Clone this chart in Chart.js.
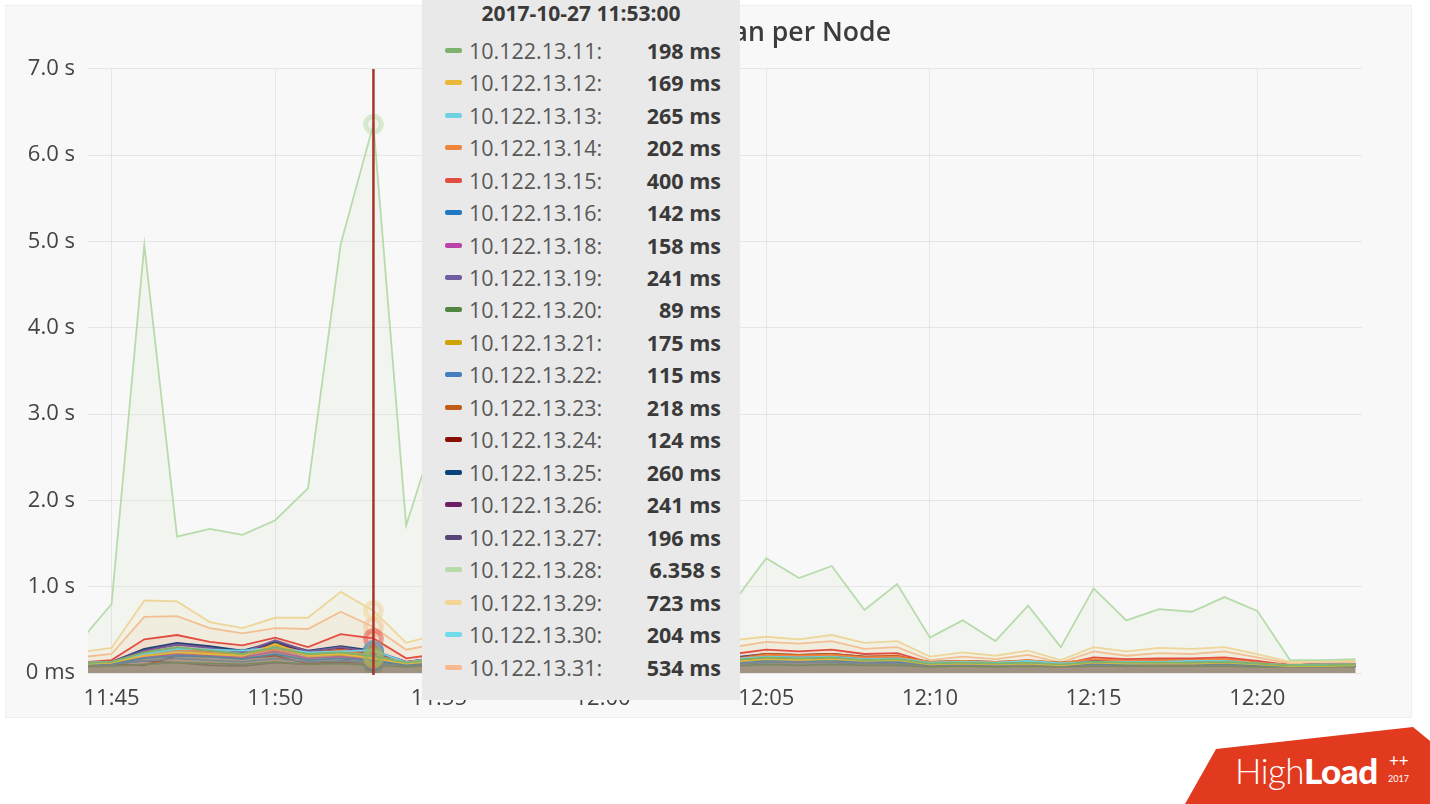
<!DOCTYPE html>
<html>
<head>
<meta charset="utf-8">
<title>Latency per Node</title>
<script src="https://cdn.jsdelivr.net/npm/chart.js@4.4.0/dist/chart.umd.min.js"></script>
<style>
  html, body { margin: 0; padding: 0; background: #fff; width: 1430px; height: 804px; overflow: hidden; }
  #panel { position: absolute; left: 5px; top: 5px; width: 1405px; height: 711px; background: #f8f8f8; border: 1px solid #efefef; }
  #chartBox { position: absolute; left: 5px; top: 5px; width: 1407px; height: 713px; }
  #tip { position: absolute; left: 422px; top: -8px; width: 318px; height: 708px; background: #e9e9e9;
         font-family: 'Open Sans', sans-serif; box-sizing: border-box; padding: 8px 19px 0 23px; }
  #tip .tt-title { font-weight: 700; font-size: 21px; line-height: 26px; color: #3a3a3a; text-align: center; margin-left: -4px; }
  #tip .row { display: flex; align-items: center; height: 32.47px; }
  #tip .rows { margin-top: 8px; }
  #tip .sw { width: 17px; height: 5px; border-radius: 2px; margin-right: 7px; flex: none; }
  #tip .lbl { font-size: 21.5px; color: #585858; flex: 1; }
  #tip .val { font-size: 21.5px; font-weight: 700; color: #3a3a3a; }
  #logoShape { position: absolute; left: 1180px; top: 720px; width: 250px; height: 84px; background: #e13a1e;
               clip-path: polygon(5px 84px, 36px 29px, 233px 7px, 250px 21px, 250px 84px); }
  #logoText { position: absolute; left: 1235px; top: 748px; color: #fff; font-family: Lato, sans-serif; font-size: 35px; line-height: 44px; letter-spacing: -0.5px; }
  #logoText .thin { font-weight: 300; }
  #logoText .bold { font-weight: 900; }
  #logoPlus { position: absolute; left: 1389px; top: 752px; color: #fff; font-family: Lato, sans-serif; font-size: 17px; font-weight: 400; line-height: 17px; }
  #logoYear { position: absolute; left: 1388px; top: 774px; color: #fff; font-family: Lato, sans-serif; font-size: 9px; line-height: 10px; }
</style>
</head>
<body>
<div id="panel"></div>
<div id="chartBox"><canvas id="latencyChart"></canvas></div>
<div id="tip"></div>
<div id="logoShape"></div>
<div id="logoText"><span class="thin">High</span><span class="bold">Load</span></div>
<div id="logoPlus">++</div>
<div id="logoYear">2017</div>
<script>
// ---- data ----
const day = '2017-10-27';
const times = ['11:44','11:45','11:46','11:47','11:48','11:49','11:50','11:51','11:52','11:53',
               '11:54','11:55','11:56','11:57','11:58','11:59','12:00','12:01','12:02','12:03',
               '12:04','12:05','12:06','12:07','12:08','12:09','12:10','12:11','12:12','12:13',
               '12:14','12:15','12:16','12:17','12:18','12:19','12:20','12:21','12:22','12:23'];
const hoverTime = '11:53';
const xTicks = ['11:45','11:50','11:55','12:00','12:05','12:10','12:15','12:20'];
const yTickLabels = ['0 ms','1.0 s','2.0 s','3.0 s','4.0 s','5.0 s','6.0 s','7.0 s'];

const nodes = ['10.122.13.11','10.122.13.12','10.122.13.13','10.122.13.14','10.122.13.15',
               '10.122.13.16','10.122.13.18','10.122.13.19','10.122.13.20','10.122.13.21',
               '10.122.13.22','10.122.13.23','10.122.13.24','10.122.13.25','10.122.13.26',
               '10.122.13.27','10.122.13.28','10.122.13.29','10.122.13.30','10.122.13.31'];

// seconds, one value per minute
const node11 = [0.11,0.13,0.24,0.30,0.26,0.22,0.30,0.22,0.24,0.198, 0.12,0.16,0.18,0.17,0.16,0.15,0.17,0.16,0.15,0.16, 0.15,0.18,0.17,0.18,0.15,0.16,0.11,0.12,0.11,0.12, 0.10,0.13,0.12,0.12,0.12,0.13,0.11,0.09,0.09,0.10];
const node12 = [0.10,0.12,0.20,0.24,0.22,0.20,0.33,0.20,0.22,0.169, 0.11,0.14,0.15,0.15,0.14,0.13,0.15,0.14,0.13,0.14, 0.13,0.16,0.15,0.16,0.14,0.15,0.10,0.11,0.10,0.11, 0.09,0.12,0.11,0.11,0.11,0.12,0.10,0.08,0.08,0.09];
const node13 = [0.12,0.13,0.22,0.28,0.27,0.26,0.30,0.24,0.25,0.265, 0.12,0.18,0.19,0.18,0.17,0.17,0.18,0.17,0.16,0.17, 0.16,0.19,0.18,0.19,0.16,0.17,0.12,0.13,0.12,0.14, 0.11,0.13,0.13,0.13,0.14,0.14,0.11,0.09,0.10,0.10];
const node14 = [0.11,0.12,0.23,0.27,0.24,0.21,0.27,0.21,0.26,0.202, 0.13,0.17,0.18,0.18,0.16,0.15,0.17,0.16,0.15,0.16, 0.16,0.21,0.20,0.21,0.18,0.19,0.13,0.14,0.13,0.15, 0.12,0.16,0.14,0.15,0.15,0.16,0.12,0.09,0.10,0.10];
const node15 = [0.12,0.15,0.39,0.44,0.36,0.32,0.41,0.30,0.45,0.400, 0.17,0.22,0.24,0.23,0.22,0.21,0.23,0.22,0.21,0.22, 0.22,0.27,0.25,0.27,0.22,0.23,0.12,0.14,0.12,0.15, 0.10,0.18,0.16,0.17,0.17,0.18,0.14,0.09,0.10,0.10];
const node16 = [0.10,0.11,0.17,0.20,0.19,0.16,0.22,0.15,0.17,0.142, 0.10,0.12,0.13,0.13,0.12,0.12,0.13,0.12,0.12,0.12, 0.12,0.14,0.14,0.14,0.13,0.13,0.10,0.10,0.10,0.11, 0.09,0.11,0.10,0.11,0.11,0.11,0.09,0.08,0.08,0.08];
const node18 = [0.10,0.11,0.18,0.22,0.20,0.18,0.25,0.17,0.19,0.158, 0.10,0.13,0.14,0.13,0.13,0.12,0.13,0.13,0.12,0.13, 0.12,0.15,0.14,0.15,0.13,0.13,0.10,0.11,0.10,0.11, 0.09,0.11,0.11,0.11,0.11,0.12,0.10,0.08,0.08,0.09];
const node19 = [0.12,0.13,0.26,0.33,0.29,0.24,0.38,0.25,0.30,0.241, 0.13,0.18,0.19,0.19,0.18,0.17,0.19,0.18,0.17,0.18, 0.17,0.20,0.19,0.20,0.18,0.18,0.12,0.13,0.12,0.13, 0.11,0.14,0.13,0.14,0.14,0.14,0.12,0.09,0.10,0.10];
const node20 = [0.07,0.08,0.10,0.12,0.11,0.10,0.13,0.10,0.11,0.089, 0.07,0.09,0.09,0.09,0.09,0.08,0.09,0.09,0.08,0.09, 0.08,0.10,0.09,0.10,0.09,0.09,0.07,0.08,0.07,0.08, 0.07,0.08,0.08,0.08,0.08,0.08,0.07,0.07,0.07,0.07];
const node21 = [0.10,0.12,0.19,0.23,0.21,0.19,0.34,0.20,0.21,0.175, 0.11,0.14,0.15,0.14,0.14,0.13,0.14,0.14,0.13,0.14, 0.13,0.16,0.15,0.16,0.14,0.14,0.10,0.11,0.10,0.12, 0.09,0.12,0.11,0.12,0.12,0.12,0.10,0.08,0.09,0.09];
const node22 = [0.09,0.10,0.14,0.17,0.15,0.13,0.17,0.13,0.14,0.115, 0.09,0.11,0.11,0.11,0.11,0.10,0.11,0.11,0.10,0.11, 0.10,0.12,0.12,0.12,0.11,0.11,0.09,0.09,0.09,0.10, 0.08,0.10,0.09,0.10,0.10,0.10,0.09,0.08,0.08,0.08];
const node23 = [0.11,0.13,0.24,0.29,0.25,0.22,0.31,0.23,0.27,0.218, 0.12,0.17,0.18,0.18,0.17,0.16,0.17,0.17,0.16,0.17, 0.17,0.22,0.21,0.22,0.19,0.20,0.12,0.13,0.12,0.14, 0.11,0.15,0.14,0.15,0.15,0.16,0.12,0.09,0.10,0.10];
const node24 = [0.09,0.10,0.09,0.20,0.19,0.17,0.20,0.11,0.12,0.124, 0.09,0.11,0.11,0.11,0.11,0.10,0.11,0.11,0.10,0.11, 0.10,0.19,0.18,0.19,0.16,0.17,0.11,0.12,0.11,0.12, 0.10,0.13,0.12,0.13,0.13,0.13,0.10,0.08,0.08,0.09];
const node25 = [0.12,0.13,0.28,0.35,0.31,0.26,0.36,0.26,0.31,0.260, 0.13,0.18,0.20,0.19,0.18,0.18,0.19,0.18,0.17,0.18, 0.18,0.22,0.21,0.22,0.19,0.19,0.13,0.14,0.13,0.14, 0.12,0.15,0.14,0.15,0.15,0.15,0.12,0.09,0.10,0.10];
const node26 = [0.11,0.12,0.27,0.33,0.30,0.25,0.34,0.25,0.29,0.241, 0.12,0.17,0.19,0.18,0.17,0.17,0.18,0.17,0.17,0.17, 0.17,0.21,0.20,0.21,0.18,0.18,0.12,0.13,0.12,0.13, 0.11,0.14,0.13,0.14,0.14,0.14,0.11,0.09,0.09,0.10];
const node27 = [0.10,0.11,0.14,0.12,0.09,0.08,0.12,0.10,0.14,0.196, 0.11,0.15,0.16,0.15,0.15,0.14,0.15,0.15,0.14,0.15, 0.14,0.17,0.16,0.17,0.15,0.15,0.11,0.12,0.11,0.12, 0.10,0.12,0.12,0.12,0.12,0.13,0.10,0.08,0.09,0.09];
const node28 = [0.35,0.80,4.96,1.58,1.67,1.60,1.77,2.14,4.97,6.358, 1.71,2.90,2.30,1.90,1.60,1.40,1.25,1.35,1.15,1.00, 0.82,1.33,1.10,1.24,0.73,1.03,0.41,0.61,0.37,0.78, 0.30,0.98,0.61,0.74,0.71,0.88,0.72,0.15,0.15,0.16];
const node29 = [0.24,0.29,0.84,0.83,0.59,0.52,0.64,0.64,0.94,0.723, 0.35,0.45,0.48,0.46,0.44,0.42,0.44,0.42,0.40,0.40, 0.38,0.42,0.39,0.44,0.35,0.37,0.19,0.24,0.20,0.26, 0.15,0.30,0.25,0.29,0.28,0.30,0.22,0.13,0.13,0.15];
const node30 = [0.11,0.12,0.21,0.27,0.26,0.27,0.28,0.22,0.22,0.204, 0.10,0.15,0.16,0.16,0.15,0.14,0.16,0.15,0.14,0.15, 0.14,0.17,0.16,0.17,0.15,0.15,0.10,0.11,0.10,0.12, 0.09,0.12,0.11,0.12,0.12,0.12,0.10,0.08,0.09,0.09];
const node31 = [0.18,0.22,0.65,0.66,0.52,0.46,0.52,0.51,0.71,0.534, 0.27,0.34,0.36,0.35,0.33,0.32,0.34,0.33,0.31,0.31, 0.30,0.36,0.34,0.37,0.28,0.30,0.15,0.19,0.16,0.21, 0.12,0.25,0.20,0.23,0.22,0.25,0.18,0.11,0.12,0.13];

const series = [node11, node12, node13, node14, node15, node16, node18, node19, node20, node21,
                node22, node23, node24, node25, node26, node27, node28, node29, node30, node31];

// grafana default palette
const colors = ['#7EB26D','#EAB839','#6ED0E0','#EF843C','#E24D42','#1F78C1','#BA43A9','#705DA0','#508642','#CCA300',
                '#447EBC','#C15C17','#890F02','#0A437C','#6D1F62','#584477','#B7DBAB','#F4D598','#70DBED','#F9BA8F'];

// ---- helpers ----
function toMinutes(t) {
    const p = t.split(':');
    return (+p[0]) * 60 + (+p[1]) - 660;
}
function alpha(hex, a) {
    const n = parseInt(hex.slice(1), 16);
    return 'rgba(' + (n >> 16) + ',' + ((n >> 8) & 255) + ',' + (n & 255) + ',' + a + ')';
}
function fmtValue(v) {
    return v < 1 ? Math.round(v * 1000) + ' ms' : v.toFixed(3) + ' s';
}

const datasets = series.map((vals, i) => ({
    label: nodes[i],
    data: vals.map((v, j) => ({ x: toMinutes(times[j]), y: v })),
    borderColor: colors[i],
    backgroundColor: alpha(colors[i], 0.1),
    borderWidth: 1.8,
    fill: 'origin',
    tension: 0,
    pointRadius: 0,
    pointHoverRadius: 8,
    pointHoverBorderWidth: 5,
    pointHoverBorderColor: alpha(colors[i], 0.5),
    pointHoverBackgroundColor: alpha(colors[i], 0.15)
}));

// html tooltip, same look as the grafana hover box
function externalTip(context) {
    const tip = context.tooltip;
    const el = document.getElementById('tip');
    if (!tip.dataPoints || !tip.dataPoints.length) { el.style.display = 'none'; return; }
    let html = '<div class="tt-title">' + tip.title[0] + '</div><div class="rows">';
    tip.dataPoints.forEach(dp => {
        html += '<div class="row"><span class="sw" style="background:' + dp.dataset.borderColor + '"></span>' +
                '<span class="lbl">' + dp.dataset.label + ':</span>' +
                '<span class="val">' + fmtValue(dp.parsed.y) + '</span></div>';
    });
    html += '</div>';
    el.innerHTML = html;
    el.style.display = 'block';
}

// vertical hover line
const hoverLine = {
    id: 'hoverLine',
    afterDatasetsDraw(chart) {
        const act = chart.getActiveElements();
        if (!act.length) return;
        const ctx = chart.ctx;
        const x = act[0].element.x;
        ctx.save();
        ctx.strokeStyle = '#a8352a';
        ctx.lineWidth = 2.5;
        ctx.beginPath();
        ctx.moveTo(x, chart.chartArea.top);
        ctx.lineTo(x, chart.chartArea.bottom + 2);
        ctx.stroke();
        ctx.restore();
    }
};

const chart = new Chart(document.getElementById('latencyChart'), {
    type: 'line',
    data: { datasets: datasets },
    plugins: [hoverLine],
    options: {
        responsive: true,
        maintainAspectRatio: false,
        animation: false,
        events: [],
        layout: { padding: { left: 0, right: 50, top: 0, bottom: 0 } },
        interaction: { mode: 'index', intersect: false },
        scales: {
            x: {
                type: 'linear',
                min: 44.28,
                max: 83.2,
                afterBuildTicks: axis => { axis.ticks = xTicks.map(t => ({ value: toMinutes(t) })); },
                afterFit: axis => { axis.height = 45; },
                grid: { color: 'rgba(0,0,0,0.07)', drawTicks: false },
                border: { display: false },
                ticks: {
                    padding: 13,
                    color: '#444',
                    font: { family: 'Open Sans', size: 22 },
                    maxRotation: 0,
                    callback: (v, i) => xTicks[i]
                }
            },
            y: {
                min: 0,
                max: 7,
                afterFit: axis => { axis.width = 83; },
                grid: { color: 'rgba(0,0,0,0.07)', drawTicks: false },
                border: { display: false },
                ticks: {
                    stepSize: 1,
                    padding: 13,
                    color: '#444',
                    font: { family: 'Open Sans', size: 22 },
                    callback: (v, i) => yTickLabels[i]
                }
            }
        },
        plugins: {
            legend: { display: false },
            title: {
                display: true,
                text: 'Query Latency Median per Node',
                color: '#3c3c3c',
                font: { family: 'Open Sans', size: 26.6, weight: '600' },
                padding: { top: 12, bottom: 20 }
            },
            tooltip: {
                enabled: false,
                external: externalTip,
                callbacks: {
                    title: items => day + ' ' + times[items[0].dataIndex] + ':00'
                }
            }
        }
    }
});

// freeze the hover at 11:53 like the screenshot
const idx = times.indexOf(hoverTime);
const active = datasets.map((d, i) => ({ datasetIndex: i, index: idx }));
chart.setActiveElements(active);
chart.tooltip.setActiveElements(active, { x: 0, y: 0 });
chart.update();
</script>
</body>
</html>
